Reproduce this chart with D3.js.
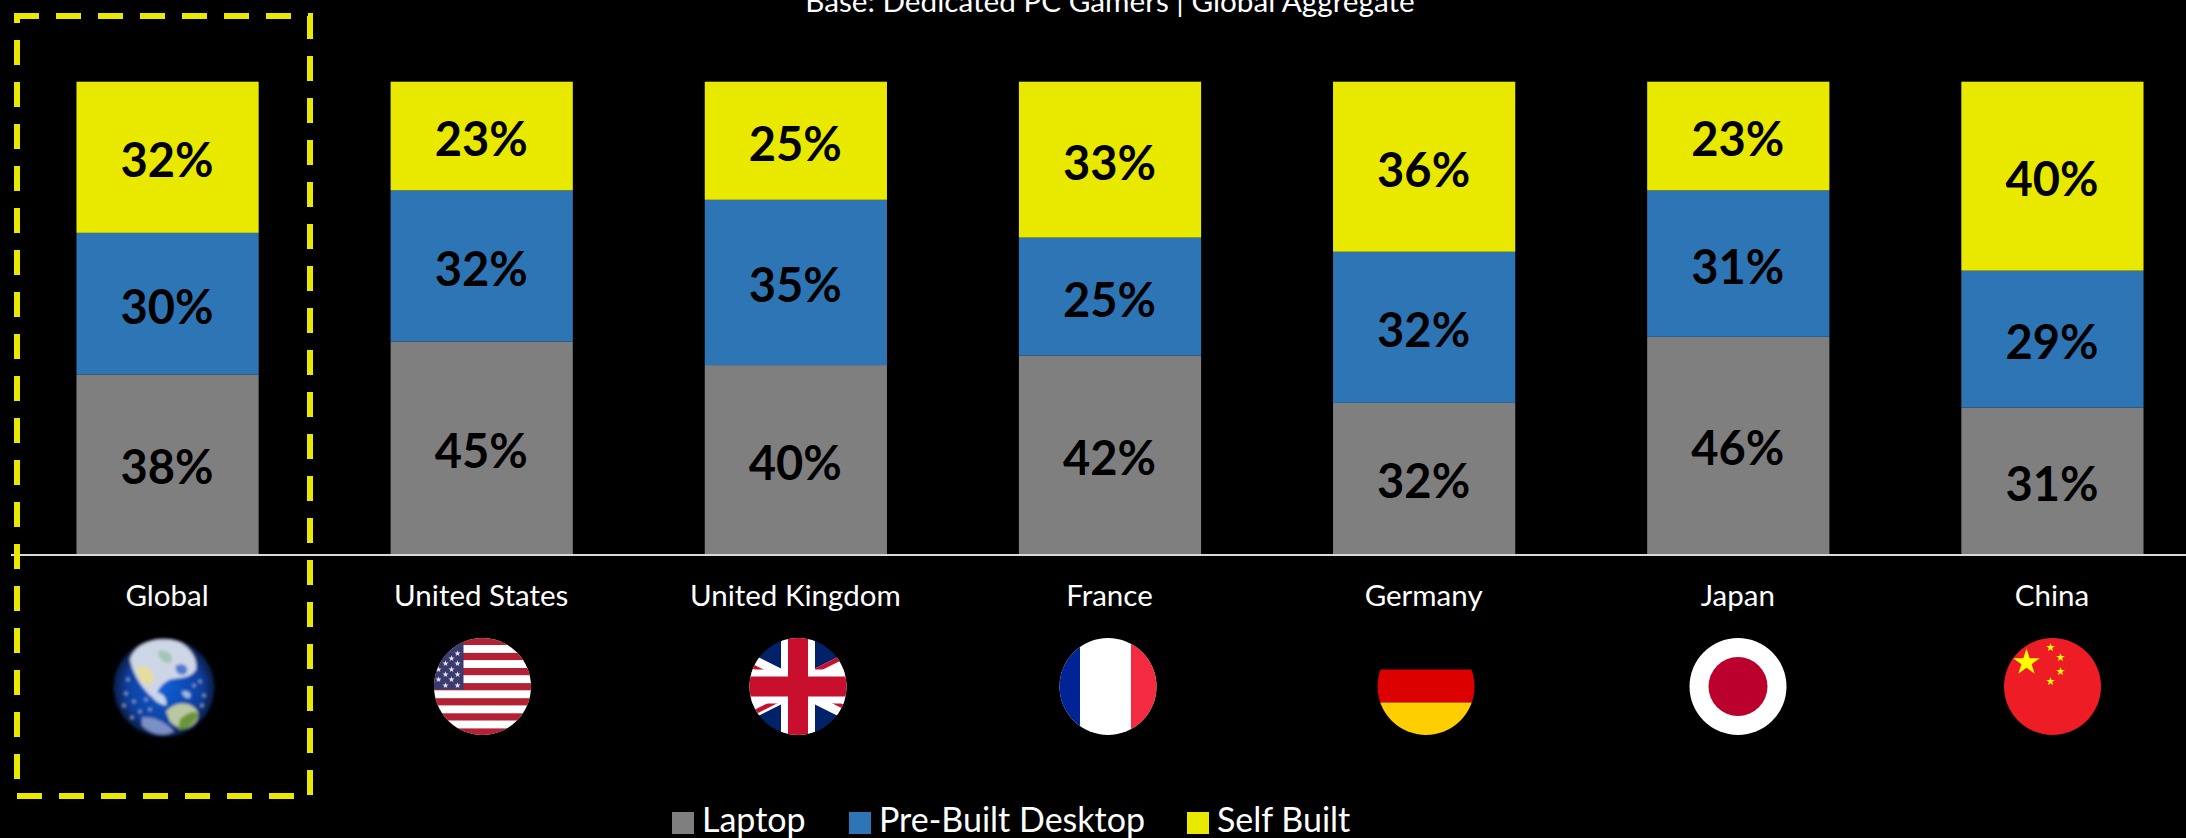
<!DOCTYPE html>
<html>
<head>
<meta charset="utf-8">
<script src="https://cdnjs.cloudflare.com/ajax/libs/d3/7.8.5/d3.min.js"></script>
<style>
body { margin: 0; background: #000; overflow: hidden; }
text { font-family: Lato, "Open Sans", sans-serif; }
</style>
</head>
<body>
<script>
var categories = ["Global", "United States", "United Kingdom", "France", "Germany", "Japan", "China"];
var laptop = [38, 45, 40, 42, 32, 46, 31];
var preBuilt = [30, 32, 35, 25, 32, 31, 29];
var selfBuilt = [32, 23, 25, 33, 36, 23, 40];
var seriesNames = ["Laptop", "Pre-Built Desktop", "Self Built"];
var seriesColors = ["#7f7f7f", "#2e75b6", "#e9e900"];

var width = 2186, height = 838;

var svg = d3.select("body").append("svg")
    .attr("width", width)
    .attr("height", height)
    .style("display", "block");

svg.append("rect").attr("width", width).attr("height", height).attr("fill", "#000");

var x = d3.scaleBand().domain(categories).range([10.5, 2209.5]).paddingInner(0.42).paddingOuter(0.21);
var y = d3.scaleLinear().domain([0, 100]).range([554, 81.7]);

var rows = categories.map(function (c, i) {
    return { category: c, Laptop: laptop[i], "Pre-Built Desktop": preBuilt[i], "Self Built": selfBuilt[i] };
});
var stacked = d3.stack().keys(seriesNames)(rows);

svg.append("text")
    .attr("x", 1110)
    .attr("y", 12)
    .attr("text-anchor", "middle")
    .attr("fill", "#fff")
    .style("font-size", "29.7px")
    .text("Base: Dedicated PC Gamers | Global Aggregate");

var groups = svg.selectAll(".series")
    .data(stacked)
    .enter().append("g")
    .attr("class", "series");

groups.selectAll("rect")
    .data(function (d) { return d; })
    .enter().append("rect")
    .attr("x", function (d) { return x(d.data.category); })
    .attr("width", x.bandwidth())
    .attr("y", function (d) { return y(d[1]); })
    .attr("height", function (d) { return y(d[0]) - y(d[1]); })
    .attr("fill", function (d, i, nodes) { return seriesColors[stacked.indexOf(d3.select(nodes[i].parentNode).datum())]; });

groups.selectAll(".value")
    .data(function (d) { return d; })
    .enter().append("text")
    .attr("class", "value")
    .attr("x", function (d) { return x(d.data.category) + x.bandwidth() / 2 - 0.5; })
    .attr("y", function (d) { return (y(d[0]) + y(d[1])) / 2 + 20; })
    .attr("text-anchor", "middle")
    .attr("fill", "#000")
    .style("font-size", "47px")
    .style("font-weight", "700")
    .text(function (d) { return (d[1] - d[0]) + "%"; });

// baseline
svg.append("line")
    .attr("x1", 11).attr("x2", width)
    .attr("y1", 555).attr("y2", 555)
    .attr("stroke", "#d9d9d9")
    .attr("stroke-width", 2);

svg.selectAll(".cat")
    .data(categories)
    .enter().append("text")
    .attr("class", "cat")
    .attr("x", function (d) { return x(d) + x.bandwidth() / 2 - 0.5; })
    .attr("y", 606)
    .attr("text-anchor", "middle")
    .attr("fill", "#fff")
    .style("font-size", "29.5px")
    .text(function (d) { return d; });

// highlight box round Global
svg.append("path")
    .attr("d", "M14,16H310V796H17V16")
    .attr("fill", "none")
    .attr("stroke", "#e9e900")
    .attr("stroke-width", 6)
    .attr("stroke-dasharray", "25 17");

// flags, each drawn in a 96 unit box around its centre
var defs = svg.append("defs");
defs.append("clipPath").attr("id", "disc").append("circle").attr("r", 48.5);

var earthGrad = defs.append("radialGradient").attr("id", "earth").attr("cx", "50%").attr("cy", "50%").attr("r", "52%");
earthGrad.append("stop").attr("offset", "0%").attr("stop-color", "#0f5fd8");
earthGrad.append("stop").attr("offset", "72%").attr("stop-color", "#0c3f9c");
earthGrad.append("stop").attr("offset", "92%").attr("stop-color", "#08204e");
earthGrad.append("stop").attr("offset", "100%").attr("stop-color", "#000");
var blur = defs.append("filter").attr("id", "soft");
blur.append("feGaussianBlur").attr("stdDeviation", 1.4);

function flag(cx, draw) {
    var g = svg.append("g").attr("transform", "translate(" + cx + ",686.5)");
    draw(g.append("g").attr("clip-path", "url(#disc)"), g);
}

function box(g, x0, y0, w, h, color) {
    g.append("rect").attr("x", x0).attr("y", y0).attr("width", w).attr("height", h).attr("fill", color);
}

// r is the outer radius of the star
function star(g, cx, cy, r, color) {
    var sym = d3.symbol().type(d3.symbolStar).size(r * r / 0.8908);
    g.append("path").attr("d", sym()).attr("transform", "translate(" + cx + "," + cy + ")").attr("fill", color);
}

// earth
var earth = svg.append("g").attr("transform", "translate(164,687.5)").attr("filter", "url(#soft)");
earth.append("ellipse").attr("rx", 51).attr("ry", 50).attr("fill", "url(#earth)");
[["M-34,-28C-28,-46 -6,-50 10,-47C24,-44 34,-30 32,-18C26,-8 14,-10 6,-8C-2,-4 -10,4 -6,14C-16,8 -30,-8 -34,-28Z", "#cdd6e6"],
 ["M-28,-20C-20,-24 -10,-18 -10,-8C-12,0 -20,-2 -24,-8Z", "#e6dc9c"],
 ["M-6,-36C2,-40 10,-32 8,-26C2,-22 -6,-28 -6,-36Z", "#a4c6b4"],
 ["M12,-22C20,-26 26,-20 22,-14C16,-10 10,-16 12,-22Z", "#4f78d0"],
 ["M2,24C10,14 24,14 30,20C36,24 36,32 28,38C20,44 12,40 6,34Z", "#b9c8a2"],
 ["M16,32C24,24 34,22 34,28C30,36 24,42 14,42Z", "#6b9438"],
 ["M-22,30C-10,28 4,36 10,44C-2,50 -14,46 -22,38Z", "#7a90c6"],
 ["M-12,6C-4,2 4,10 2,18C-6,16 -12,12 -12,6Z", "#c4d8ea"],
 ["M18,4C24,2 28,6 26,10C22,12 18,8 18,4Z", "#9dbde4"]
].forEach(function (p) {
    earth.append("path").attr("d", p[0]).attr("fill", p[1]);
});
[[-38,6],[-30,14],[-24,24],[-40,18],[-18,12],[-32,30],[36,-6],[40,8],[30,-2],[-36,-8],[-14,22],[38,18]].forEach(function (s) {
    earth.append("circle").attr("cx", s[0]).attr("cy", s[1]).attr("r", 1.3).attr("fill", "#a9c2e6");
});

// United States
flag(482.5, function (g) {
    box(g, -49, -49, 98, 98, "#fff");
    d3.range(7).forEach(function (i) { box(g, -49, -48.7 + i * 15.1, 98, 7.2, "#b22234"); });
    box(g, -49, -49, 30, 52, "#3c3b6e");
    [[-25,-33],[-31,-28],[-25,-23],[-37,-23],[-31,-17],[-44,-17],[-25,-12],[-37,-12],[-44,-7],[-31,-7],[-37,-1],[-25,-1]]
        .forEach(function (s) { star(g, s[0], s[1], 3.2, "#e6e6f0"); });
});

// United Kingdom
flag(798, function (g) {
    box(g, -49, -49, 98, 98, "#012169");
    g.append("path").attr("d", "M-98,-49L98,49M98,-49L-98,49").attr("stroke", "#fff").attr("stroke-width", 17);
    g.append("path").attr("d", "M-98,-46.5L0,2.5M0,-2.5L98,46.5").attr("stroke", "#c8102e").attr("stroke-width", 4);
    g.append("path").attr("d", "M0,-7L98,-56M0,4L-98,53").attr("stroke", "#c8102e").attr("stroke-width", 4.5);
    box(g, -17, -49, 34, 98, "#fff");
    box(g, -49, -17, 98, 34, "#fff");
    box(g, -10, -49, 20, 98, "#c8102e");
    box(g, -49, -10, 98, 20, "#c8102e");
});

// France
flag(1108, function (g) {
    box(g, -49, -49, 98, 98, "#fff");
    box(g, -49, -49, 21, 98, "#002395");
    box(g, 23, -49, 26, 98, "#f42a41");
});

// Germany, the black band is lost on the black page
flag(1426, function (g) {
    box(g, -49, -49, 98, 32, "#000");
    box(g, -49, -17, 98, 33, "#dd0000");
    box(g, -49, 16, 98, 33, "#ffce00");
});

// Japan
flag(1738, function (g) {
    box(g, -49, -49, 98, 98, "#fff");
    g.append("circle").attr("r", 29.5).attr("fill", "#bc002d");
});

// China
flag(2052.5, function (g) {
    box(g, -49, -49, 98, 98, "#ee1c25");
    star(g, -26, -24, 14, "#ffff00");
    star(g, -2, -39, 4.5, "#ffff00");
    star(g, 8, -29, 4.5, "#ffff00");
    star(g, 8, -15, 4.5, "#ffff00");
    star(g, -2, -5, 4.5, "#ffff00");
});

// legend
var legendX = [672, 849, 1187];
var legend = svg.selectAll(".legend")
    .data(seriesNames)
    .enter().append("g")
    .attr("class", "legend")
    .attr("transform", function (d, i) { return "translate(" + legendX[i] + ",812)"; });

legend.append("rect")
    .attr("width", 22)
    .attr("height", 22)
    .attr("fill", function (d, i) { return seriesColors[i]; });

legend.append("text")
    .attr("x", 30)
    .attr("y", 20)
    .attr("fill", "#fff")
    .style("font-size", "34px")
    .text(function (d) { return d; });
</script>
</body>
</html>
